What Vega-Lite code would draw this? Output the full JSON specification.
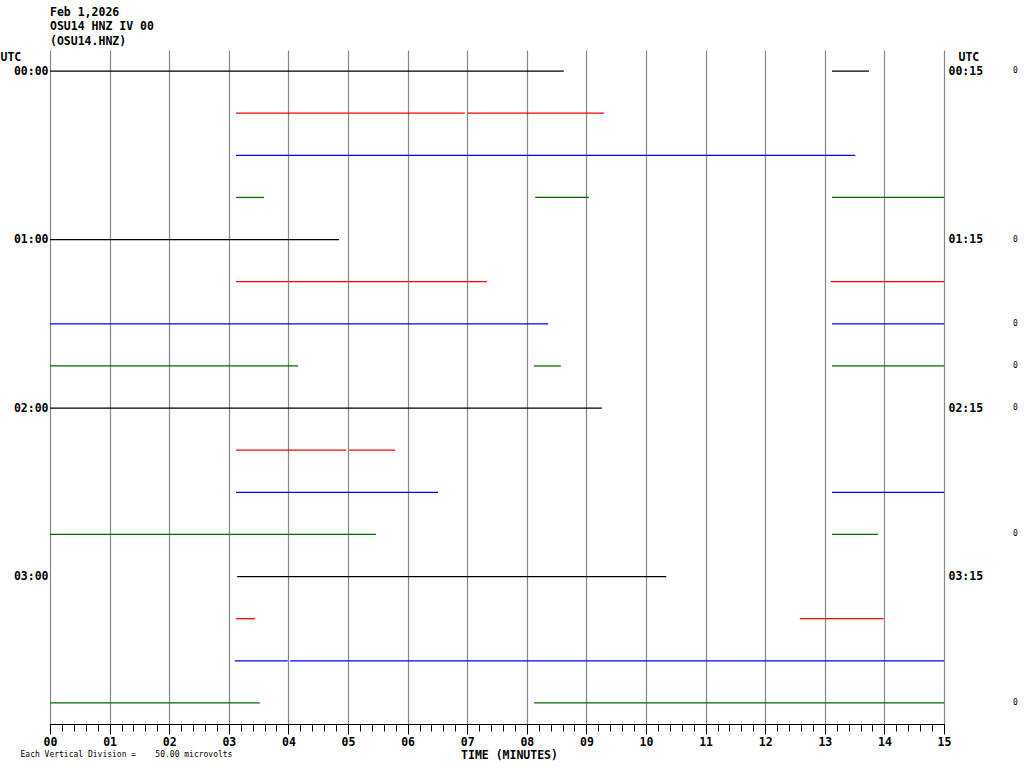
{
  "$schema": "https://vega.github.io/schema/vega-lite/v6.json",
  "width": 894,
  "height": 674,
  "autosize": {"type": "none"},
  "padding": {"left": 50, "top": 50, "right": 80, "bottom": 44},
  "background": "white",
  "title": {
    "text": ["Feb 1,2026", "OSU14 HNZ IV 00", "(OSU14.HNZ)"],
    "anchor": "start",
    "frame": "group",
    "font": "DejaVu Sans Mono",
    "fontSize": 11.5,
    "fontWeight": "bold",
    "lineHeight": 14.5,
    "offset": 3,
    "color": "black"
  },
  "config": {
    "view": {"stroke": null},
    "axis": {
      "labelFont": "DejaVu Sans Mono",
      "labelFontWeight": "bold",
      "labelFontSize": 11.5,
      "labelColor": "black",
      "titleFont": "DejaVu Sans Mono",
      "titleFontWeight": "bold",
      "titleFontSize": 11.5,
      "titleColor": "black",
      "domainColor": "black",
      "tickColor": "black"
    }
  },
  "datasets": {
    "traces": [
      {"row": 0, "start": 0, "end": 8.62},
      {"row": 0, "start": 13.12, "end": 13.74},
      {"row": 1, "start": 3.12, "end": 6.96},
      {"row": 1, "start": 7.01, "end": 9.30},
      {"row": 2, "start": 3.12, "end": 13.51},
      {"row": 3, "start": 3.12, "end": 3.59},
      {"row": 3, "start": 8.14, "end": 9.04},
      {"row": 3, "start": 13.12, "end": 15},
      {"row": 4, "start": 0, "end": 4.85},
      {"row": 5, "start": 3.12, "end": 7.33},
      {"row": 5, "start": 13.1, "end": 15},
      {"row": 6, "start": 0, "end": 8.36},
      {"row": 6, "start": 13.12, "end": 15},
      {"row": 7, "start": 0, "end": 4.16},
      {"row": 7, "start": 8.12, "end": 8.57},
      {"row": 7, "start": 13.12, "end": 15},
      {"row": 8, "start": 0, "end": 9.26},
      {"row": 9, "start": 3.12, "end": 4.97},
      {"row": 9, "start": 5.02, "end": 5.79},
      {"row": 10, "start": 3.12, "end": 6.51},
      {"row": 10, "start": 13.12, "end": 15},
      {"row": 11, "start": 0, "end": 5.47},
      {"row": 11, "start": 13.12, "end": 13.89},
      {"row": 12, "start": 3.14, "end": 10.34},
      {"row": 13, "start": 3.12, "end": 3.44},
      {"row": 13, "start": 12.58, "end": 13.99},
      {"row": 14, "start": 3.10, "end": 3.99},
      {"row": 14, "start": 4.03, "end": 15},
      {"row": 15, "start": 0, "end": 3.52},
      {"row": 15, "start": 8.12, "end": 15}
    ],
    "dc": [
      {"row": 0, "dc": "0"},
      {"row": 4, "dc": "0"},
      {"row": 6, "dc": "0"},
      {"row": 7, "dc": "0"},
      {"row": 8, "dc": "0"},
      {"row": 11, "dc": "0"},
      {"row": 15, "dc": "0"}
    ]
  },
  "resolve": {"axis": {"x": "independent", "y": "independent"}},
  "layer": [
    {
      "data": {"name": "traces"},
      "mark": {"type": "rule", "strokeWidth": 1.3},
      "encoding": {
        "x": {
          "field": "start",
          "type": "quantitative",
          "scale": {"domain": [0, 15], "nice": false, "zero": false},
          "axis": {
            "orient": "bottom",
            "values": [0, 1, 2, 3, 4, 5, 6, 7, 8, 9, 10, 11, 12, 13, 14, 15],
            "format": "02d",
            "grid": true,
            "gridColor": "#888888",
            "gridOpacity": 1,
            "gridWidth": 1.2,
            "tickSize": 10,
            "labelPadding": 2,
            "labelFlush": false,
            "labelOverlap": false,
            "title": "TIME (MINUTES)",
            "titleX": 459,
            "titleY": 34,
            "titleAlign": "center",
            "titleBaseline": "alphabetic"
          }
        },
        "x2": {"field": "end"},
        "y": {
          "field": "row",
          "type": "quantitative",
          "scale": {"domain": [-0.5, 15.5], "reverse": true, "nice": false, "zero": false},
          "axis": {
            "orient": "left",
            "values": [0, 4, 8, 12],
            "labelExpr": "datum.value == 0 ? '00:00' : datum.value == 4 ? '01:00' : datum.value == 8 ? '02:00' : '03:00'",
            "ticks": false,
            "domain": false,
            "grid": false,
            "labelPadding": 2,
            "labelBaseline": "middle",
            "title": "UTC",
            "titleAngle": 0,
            "titleAlign": "left",
            "titleBaseline": "middle",
            "titleX": -50,
            "titleY": 7
          }
        },
        "color": {
          "field": "row",
          "type": "ordinal",
          "scale": {
            "domain": [0, 1, 2, 3, 4, 5, 6, 7, 8, 9, 10, 11, 12, 13, 14, 15],
            "range": ["#000000", "#ff0000", "#0000ff", "#006a00", "#000000", "#ff0000", "#0000ff", "#006a00", "#000000", "#ff0000", "#0000ff", "#006a00", "#000000", "#ff0000", "#0000ff", "#006a00"]
          },
          "legend": null
        }
      }
    },
    {
      "data": {"name": "dc"},
      "mark": {"type": "text", "font": "DejaVu Sans Mono", "fontSize": 8, "align": "center", "baseline": "middle", "color": "black"},
      "encoding": {
        "x": {
          "datum": 16.2,
          "type": "quantitative",
          "axis": {
            "orient": "bottom",
            "values": [0, 0.2, 0.4, 0.6, 0.8, 1, 1.2, 1.4, 1.6, 1.8, 2, 2.2, 2.4, 2.6, 2.8, 3, 3.2, 3.4, 3.6, 3.8, 4, 4.2, 4.4, 4.6, 4.8, 5, 5.2, 5.4, 5.6, 5.8, 6, 6.2, 6.4, 6.6, 6.8, 7, 7.2, 7.4, 7.6, 7.8, 8, 8.2, 8.4, 8.6, 8.8, 9, 9.2, 9.4, 9.6, 9.8, 10, 10.2, 10.4, 10.6, 10.8, 11, 11.2, 11.4, 11.6, 11.8, 12, 12.2, 12.4, 12.6, 12.8, 13, 13.2, 13.4, 13.6, 13.8, 14, 14.2, 14.4, 14.6, 14.8, 15],
            "labels": false,
            "grid": false,
            "tickSize": 7,
            "title": "Each Vertical Division =\u00a0\u00a0\u00a0\u00a050.00 microvolts",
            "titleFont": "DejaVu Sans Mono",
            "titleFontWeight": "normal",
            "titleFontSize": 8,
            "titleX": -30,
            "titleY": 30,
            "titleAlign": "left",
            "titleBaseline": "middle"
          }
        },
        "y": {
          "field": "row",
          "type": "quantitative",
          "axis": {
            "orient": "right",
            "values": [0, 4, 8, 12],
            "labelExpr": "datum.value == 0 ? '00:15' : datum.value == 4 ? '01:15' : datum.value == 8 ? '02:15' : '03:15'",
            "ticks": false,
            "domain": false,
            "grid": false,
            "labelPadding": 4,
            "labelBaseline": "middle",
            "title": "UTC",
            "titleAngle": 0,
            "titleAlign": "left",
            "titleBaseline": "middle",
            "titleX": 14,
            "titleY": 7
          }
        },
        "text": {"field": "dc"}
      }
    },
    {
      "mark": {"type": "text", "font": "DejaVu Sans Mono", "fontSize": 7.5, "align": "center", "baseline": "middle", "color": "black", "text": "DC"},
      "encoding": {
        "x": {"datum": 16.02, "type": "quantitative", "axis": null},
        "y": {"datum": -0.41, "type": "quantitative", "axis": null}
      }
    },
    {
      "mark": {"type": "rule", "color": "black", "strokeWidth": 1},
      "encoding": {
        "x": {"datum": 0, "type": "quantitative", "axis": null},
        "x2": {"datum": 15},
        "y": {"datum": -0.5, "type": "quantitative", "axis": null}
      }
    }
  ]
}
